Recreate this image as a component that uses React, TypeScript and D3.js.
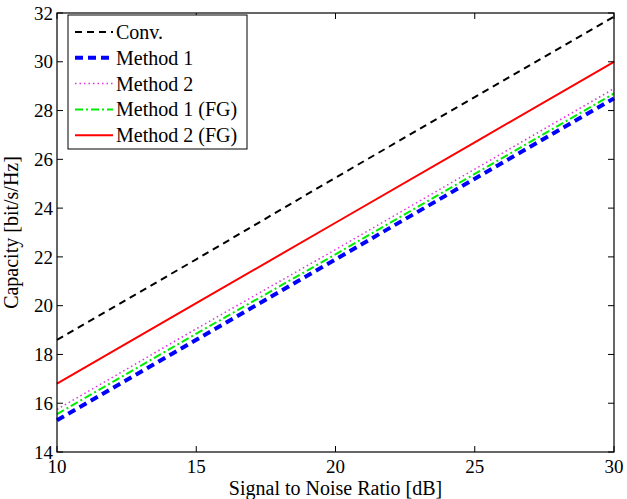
import React, { useEffect, useRef } from "react";
import * as d3 from "d3";

// SNR points [dB]
const snr = [10, 15, 20, 25, 30];

// capacity [bit/s/Hz]
const conv = [18.6, 21.9, 25.25, 28.55, 31.85];
const method1 = [15.3, 18.6, 21.9, 25.2, 28.5];
const method2 = [15.75, 19.05, 22.3, 25.6, 28.9];
const method1FG = [15.55, 18.85, 22.1, 25.4, 28.7];
const method2FG = [16.8, 20.1, 23.4, 26.7, 30.0];

const xTicks = [10, 15, 20, 25, 30];
const yTicks = [14, 16, 18, 20, 22, 24, 26, 28, 30, 32];

const series = [
  { name: "Conv.", values: conv, color: "#000000", width: 2, dash: "7,5" },
  { name: "Method 1", values: method1, color: "#0000ff", width: 4, dash: "8,5" },
  { name: "Method 2", values: method2, color: "#dd33dd", width: 1.5, dash: "1.5,3" },
  { name: "Method 1 (FG)", values: method1FG, color: "#00ee00", width: 2, dash: "8,3,2,3" },
  { name: "Method 2 (FG)", values: method2FG, color: "#ff0000", width: 2, dash: null },
];

const W = 627;
const H = 499;
const margin = { top: 13, right: 13, bottom: 47, left: 57 };
const font = "'Liberation Serif', 'Times New Roman', serif";
const fs = 20;
const tickFs = 19;

const App = () => {
  const ref = useRef<SVGSVGElement>(null);

  useEffect(() => {
    const svg = d3.select(ref.current);
    svg.selectAll("*").remove();

    const iw = W - margin.left - margin.right;
    const ih = H - margin.top - margin.bottom;

    const x = d3.scaleLinear().domain([10, 30]).range([0, iw]);
    const y = d3.scaleLinear().domain([14, 32]).range([ih, 0]);

    const g = svg
      .append("g")
      .attr("transform", "translate(" + margin.left + "," + margin.top + ")");

    g.append("rect")
      .attr("width", iw)
      .attr("height", ih)
      .attr("fill", "white");

    const line = d3
      .line<number>()
      .x((d, i) => x(snr[i]))
      .y((d) => y(d));

    series.forEach((s) => {
      g.append("path")
        .datum(s.values)
        .attr("d", line)
        .attr("fill", "none")
        .attr("stroke", s.color)
        .attr("stroke-width", s.width)
        .attr("stroke-dasharray", s.dash);
    });

    // ticks inside the box, all four sides
    const tl = 6;
    xTicks.forEach((t) => {
      g.append("line")
        .attr("x1", x(t)).attr("x2", x(t))
        .attr("y1", ih).attr("y2", ih - tl)
        .attr("stroke", "black");
      g.append("line")
        .attr("x1", x(t)).attr("x2", x(t))
        .attr("y1", 0).attr("y2", tl)
        .attr("stroke", "black");
      g.append("text")
        .attr("x", x(t))
        .attr("y", ih + 21)
        .attr("text-anchor", "middle")
        .attr("font-family", font)
        .attr("font-size", tickFs)
        .text(t);
    });
    yTicks.forEach((t) => {
      g.append("line")
        .attr("x1", 0).attr("x2", tl)
        .attr("y1", y(t)).attr("y2", y(t))
        .attr("stroke", "black");
      g.append("line")
        .attr("x1", iw).attr("x2", iw - tl)
        .attr("y1", y(t)).attr("y2", y(t))
        .attr("stroke", "black");
      g.append("text")
        .attr("x", -4)
        .attr("y", y(t))
        .attr("dy", "0.35em")
        .attr("text-anchor", "end")
        .attr("font-family", font)
        .attr("font-size", tickFs)
        .text(t);
    });

    g.append("rect")
      .attr("width", iw)
      .attr("height", ih)
      .attr("fill", "none")
      .attr("stroke", "black")
      .attr("stroke-width", 1.2);

    // axis labels
    g.append("text")
      .attr("x", iw / 2)
      .attr("y", ih + 43)
      .attr("text-anchor", "middle")
      .attr("font-family", font)
      .attr("font-size", fs)
      .text("Signal to Noise Ratio [dB]");
    g.append("text")
      .attr("transform", "translate(" + -39 + "," + ih / 2 + ") rotate(-90)")
      .attr("text-anchor", "middle")
      .attr("font-family", font)
      .attr("font-size", fs)
      .text("Capacity [bit/s/Hz]");

    // legend
    const lg = g.append("g").attr("transform", "translate(11,2)");
    lg.append("rect")
      .attr("width", 179)
      .attr("height", 134)
      .attr("fill", "white")
      .attr("stroke", "black")
      .attr("stroke-width", 1);
    series.forEach((s, i) => {
      const ly = 17 + i * 25.8;
      lg.append("line")
        .attr("x1", 7).attr("x2", 45)
        .attr("y1", ly).attr("y2", ly)
        .attr("stroke", s.color)
        .attr("stroke-width", s.width)
        .attr("stroke-dasharray", s.dash);
      lg.append("text")
        .attr("x", 48)
        .attr("y", ly)
        .attr("dy", "0.35em")
        .attr("font-family", font)
        .attr("font-size", fs)
        .text(s.name);
    });
  }, []);

  return (
    <svg
      ref={ref}
      width={W}
      height={H}
      style={{ position: "absolute", left: 0, top: 0, background: "white" }}
    />
  );
};

export default App;
